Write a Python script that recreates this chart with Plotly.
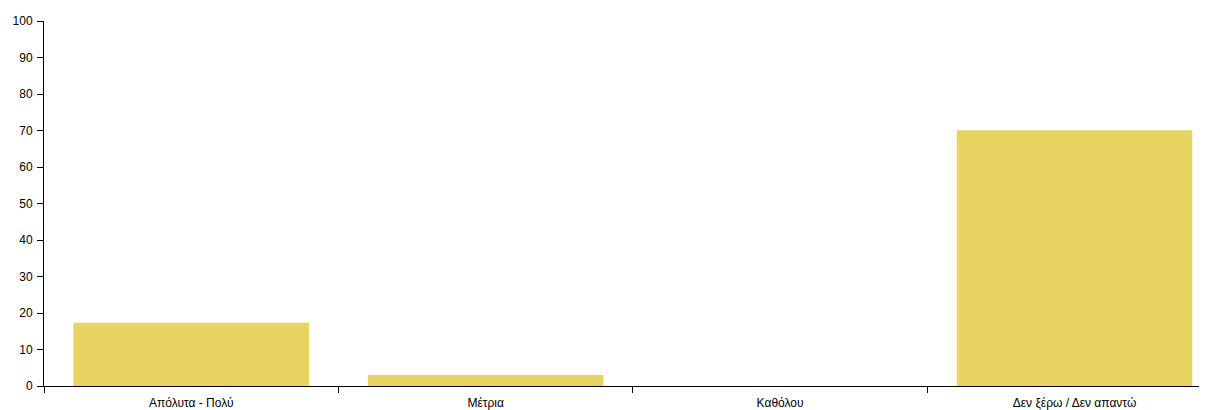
import plotly.graph_objects as go

categories = ["Απόλυτα - Πολύ", "Μέτρια", "Καθόλου", "Δεν ξέρω / Δεν απαντώ"]
values = [17.3, 3.0, 0.0, 70.1]
y_ticks = list(range(0, 101, 10))

bar_color = "#e8d460"

fig = go.Figure(
    go.Bar(x=categories, y=values, marker=dict(color=bar_color, line=dict(width=0)),
           hoverinfo="x+y")
)

# page body has an 8px default margin, so the figure is offset by 8px
fig.update_layout(
    width=1199, height=402,
    margin=dict(l=36, r=0, t=13, b=24, autoexpand=False),
    paper_bgcolor="white", plot_bgcolor="white",
    bargap=0.2,
    showlegend=False,
    font=dict(family="Liberation Sans, Arial, sans-serif", size=12, color="black"),
)
fig.update_xaxes(
    type="category",
    range=[-0.5, 3.45],
    showline=True, linecolor="black", linewidth=1,
    ticks="outside", ticklen=6, tickcolor="black", tickwidth=1,
    tickson="boundaries",
    ticklabelstandoff=6,
    showgrid=False, zeroline=False,
    tickfont=dict(size=12, color="black"),
)
fig.update_yaxes(
    range=[0, 100],
    tickvals=y_ticks,
    showline=True, linecolor="black", linewidth=1,
    ticks="outside", ticklen=6, tickcolor="black", tickwidth=1,
    ticklabelstandoff=2,
    showgrid=False, zeroline=False,
    tickfont=dict(size=12, color="black"),
)

fig.write_html("out.html")
